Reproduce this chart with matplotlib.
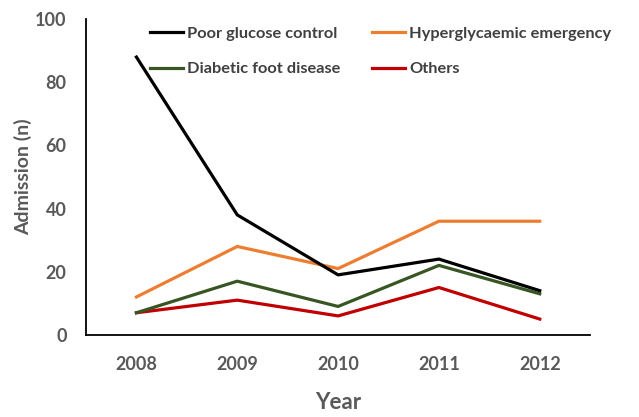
import matplotlib
matplotlib.use('Agg')
import matplotlib.pyplot as plt

# data
years = ['2008', '2009', '2010', '2011', '2012']
poor_glucose = [88, 38, 19, 24, 14]
hyperglycaemic = [12, 28, 21, 36, 36]
foot_disease = [7, 17, 9, 22, 13]
others = [7, 11, 6, 15, 5]

GREY = '#595959'
plt.rcParams['font.family'] = ['Lato', 'DejaVu Sans']

fig = plt.figure(figsize=(6.39, 4.17), dpi=100)
ax = fig.add_axes([0.1346, 0.197, 0.789, 0.757])

x = range(len(years))
lw = 2.3
ax.plot(x, poor_glucose, color='black', lw=lw, label='Poor glucose control', zorder=4)
ax.plot(x, hyperglycaemic, color='#ED7D31', lw=lw, label='Hyperglycaemic emergency', zorder=3)
ax.plot(x, foot_disease, color='#375623', lw=lw, label='Diabetic foot disease', zorder=3)
ax.plot(x, others, color='#C00000', lw=lw, label='Others', zorder=2)

ax.set_xlim(-0.5, len(years) - 0.5)
ax.set_ylim(0, 100)
ax.set_xticks(list(x))
ax.set_xticklabels(years)
ax.set_yticks(range(0, 101, 20))
ax.tick_params(length=0, labelsize=13, labelcolor=GREY)
ax.tick_params(axis='x', pad=15)
ax.tick_params(axis='y', pad=14)
for lab in ax.get_xticklabels() + ax.get_yticklabels():
    lab.set_fontweight('bold')

for s in ['top', 'right']:
    ax.spines[s].set_visible(False)
for s in ['left', 'bottom']:
    ax.spines[s].set_linewidth(1.3)
    ax.spines[s].set_color('black')

ax.set_xlabel('Year', fontsize=16, fontweight='bold', color=GREY, labelpad=14)
ax.set_ylabel('Admission (n)', fontsize=14, fontweight='bold', color=GREY, labelpad=2)

handles, labels = ax.get_legend_handles_labels()
order = [0, 2, 1, 3]
leg = ax.legend([handles[i] for i in order], [labels[i] for i in order],
                ncol=2, loc='upper left', bbox_to_anchor=(0.098, 1.025),
                frameon=False, fontsize=11.8, handlelength=2.0, handletextpad=0.25,
                labelspacing=1.3, columnspacing=1.95)
for t in leg.get_texts():
    t.set_color('#404040')
    t.set_fontweight('bold')

plt.savefig('out.png', dpi=100)
